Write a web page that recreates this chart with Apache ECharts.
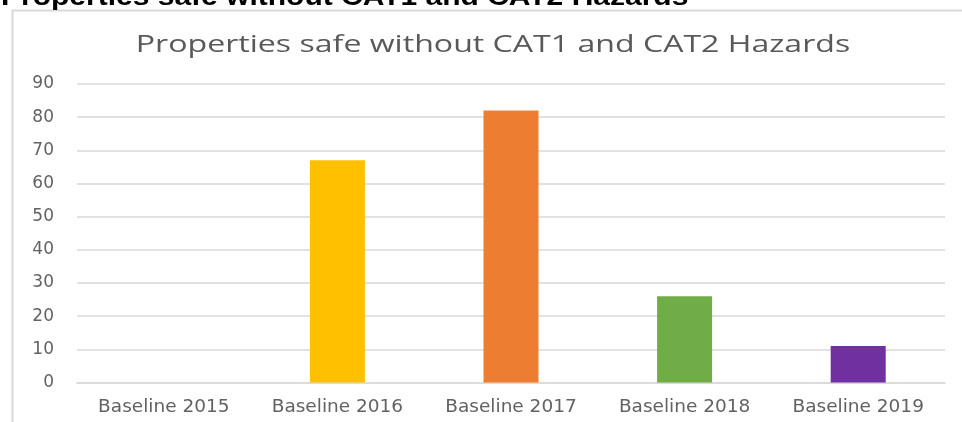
<!DOCTYPE html>
<html>
<head>
<meta charset="utf-8">
<script src="https://cdn.jsdelivr.net/npm/echarts@6/dist/echarts.min.js"></script>
<style>
html,body{margin:0;padding:0;background:#fff;}
#c{width:962px;height:422px;}
</style>
</head>
<body>
<div id="c"></div>
<script>
const pageTitle = "Properties safe without CAT1 and CAT2 Hazards";
const chartTitle = "Properties safe without CAT1 and CAT2 Hazards";
const categories = ["Baseline 2015", "Baseline 2016", "Baseline 2017", "Baseline 2018", "Baseline 2019"];
const values = [0, 67, 82, 26, 11];
const barColors = ["#A5A5A5", "#FFC000", "#ED7D31", "#70AD47", "#7030A0"];
const yTicks = {min: 0, max: 90, interval: 10};

const chart = echarts.init(document.getElementById('c'), null, {renderer: 'canvas'});
chart.setOption({
  animation: false,
  backgroundColor: '#ffffff',
  graphic: [
    {type: 'rect', shape: {x: 12.5, y: 10.5, width: 1000, height: 500}, style: {fill: 'none', stroke: '#d9d9d9', lineWidth: 2}, z: 0},
    {type: 'text', x: 1, y: -14, scaleX: 1.2, style: {text: pageTitle, x: 0, y: 0, textAlign: 'left', textVerticalAlign: 'top', font: 'bold 25px "Liberation Sans", Arial, sans-serif', fill: '#000000'}, z: 10},
    {type: 'text', x: 493, y: 33, scaleX: 1.337, style: {text: chartTitle, x: 0, y: 0, textAlign: 'center', textVerticalAlign: 'top', font: '24px "Open Sans", sans-serif', fill: '#595959'}, z: 10}
  ],
  grid: {left: 77, right: 17, top: 84, bottom: 39.5, containLabel: false},
  xAxis: {
    type: 'category',
    data: categories,
    axisLine: {lineStyle: {color: '#d9d9d9', width: 1.5}},
    axisTick: {show: false},
    axisLabel: {color: '#626262', fontFamily: '"DejaVu Sans", sans-serif', fontSize: 18.5, margin: 15}
  },
  yAxis: {
    type: 'value',
    min: yTicks.min, max: yTicks.max, interval: yTicks.interval,
    axisLine: {show: false},
    axisTick: {show: false},
    splitLine: {lineStyle: {color: '#d9d9d9', width: 1.5}},
    axisLabel: {color: '#626262', fontFamily: '"DejaVu Sans", sans-serif', fontSize: 17, margin: 23}
  },
  series: [{
    type: 'bar',
    barWidth: 55,
    data: values.map((v, i) => ({value: v, itemStyle: {color: barColors[i]}}))
  }]
});
</script>
</body>
</html>
